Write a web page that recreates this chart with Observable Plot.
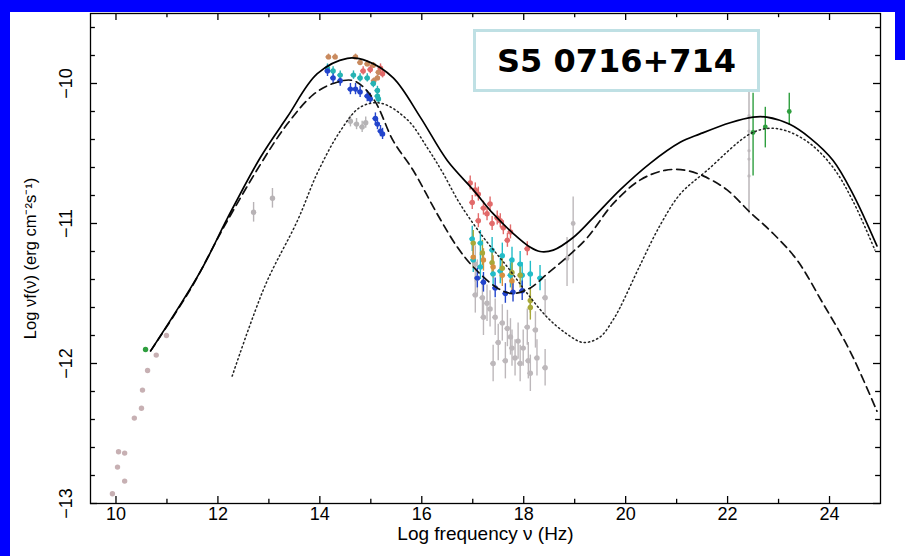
<!DOCTYPE html>
<html><head><meta charset="utf-8">
<script src="https://cdn.jsdelivr.net/npm/d3@7"></script>
<script src="https://cdn.jsdelivr.net/npm/@observablehq/plot@0.6"></script>
<style>
html,body{margin:0;padding:0;background:#fff;}
#wrap{position:relative;width:905px;height:556px;overflow:hidden;background:#fff;}
.band{position:absolute;background:#0000ff;}
#title{position:absolute;left:473px;top:29px;width:281px;height:57px;border:3px solid #bfe0e4;background:#fff;font:bold 32px "DejaVu Sans",sans-serif;display:flex;align-items:center;justify-content:center;color:#000;}
</style></head><body>
<div id="wrap"><div id="chart"></div>
<div class="band" style="left:0;top:0;width:905px;height:12px"></div>
<div class="band" style="left:0;top:0;width:10px;height:556px"></div>
<div class="band" style="left:895px;top:0;width:10px;height:60px"></div>
<div id="title">S5 0716+714</div>
</div>
<script>
// ---- tick labels ----
const xMajor = [10, 12, 14, 16, 18, 20, 22, 24];
const xMinor = [11, 13, 15, 17, 19, 21, 23];
const yMajor = [-13, -12, -11, -10];
const yMinor = [-12.8, -12.6, -12.4, -12.2, -11.8, -11.6, -11.4, -11.2, -10.8, -10.6, -10.4, -10.2, -9.8, -9.6];

// ---- model curves [log nu, log nuFnu] ----
const totalModel = [[10.68,-11.91],[11.66,-11.34],[12.19,-10.96],[12.83,-10.53],[13.36,-10.24],[13.95,-9.93],[14.54,-9.82],[14.93,-9.84],[15.44,-9.96],[15.97,-10.24],[16.5,-10.55],[17.01,-10.76],[17.4,-10.93],[17.79,-11.07],[18.13,-11.17],[18.32,-11.2],[18.58,-11.19],[18.97,-11.1],[19.36,-10.96],[19.89,-10.76],[20.48,-10.57],[21.07,-10.42],[21.46,-10.36],[22.05,-10.28],[22.5,-10.24],[22.77,-10.24],[23.21,-10.29],[23.62,-10.39],[24.07,-10.55],[24.46,-10.79],[24.93,-11.16]];
const dashedModel = [[10.68,-11.91],[11.46,-11.47],[12.11,-11.03],[12.83,-10.58],[13.36,-10.29],[13.87,-10.08],[14.26,-10.0],[14.66,-9.98],[15.05,-10.11],[15.44,-10.41],[15.83,-10.62],[16.3,-10.93],[16.7,-11.17],[17.01,-11.31],[17.48,-11.46],[17.79,-11.5],[18.13,-11.46],[18.46,-11.36],[18.85,-11.24],[19.25,-11.1],[19.75,-10.86],[20.28,-10.69],[20.77,-10.62],[21.17,-10.62],[21.52,-10.66],[21.99,-10.76],[22.44,-10.92],[22.89,-11.07],[23.36,-11.26],[23.87,-11.57],[24.4,-11.91],[24.93,-12.34]];
const dottedModel = [[12.28,-12.09],[12.93,-11.44],[13.56,-10.98],[13.95,-10.64],[14.4,-10.34],[14.79,-10.17],[15.19,-10.14],[15.72,-10.26],[16.11,-10.46],[16.4,-10.63],[16.75,-10.86],[17.21,-11.1],[17.68,-11.31],[18.07,-11.5],[18.46,-11.67],[18.85,-11.79],[19.17,-11.85],[19.5,-11.81],[19.75,-11.69],[19.89,-11.6],[20.28,-11.3],[20.68,-11.01],[21.07,-10.79],[21.6,-10.62],[22.44,-10.36],[22.83,-10.32],[23.17,-10.34],[23.62,-10.43],[24.07,-10.6],[24.46,-10.84],[24.89,-11.19]];

// ---- observations [log nu, log nuFnu] ----
const radioGrey = [[10.99,-11.8],[10.79,-11.94],[10.62,-12.05],[10.52,-12.19],[10.5,-12.32],[10.36,-12.39],[10.05,-12.63],[10.03,-12.74],[9.93,-12.93],[10.17,-12.64],[10.17,-12.84]];
const radioGreen = [[10.58,-11.9]];
const irGrey = [[12.7,-10.92],[13.07,-10.82]];
const optGrey = [[14.6,-10.27],[14.72,-10.29],[14.83,-10.31],[14.9,-10.28]];
const optBrown = [[14.17,-9.81],[14.3,-9.81],[14.7,-9.81],[14.79,-9.85],[14.93,-9.86],[15.05,-9.87],[15.15,-9.92],[15.13,-9.96],[15.06,-9.98]];
const optRed = [[14.85,-9.91],[14.99,-9.9],[15.19,-9.89],[15.23,-9.93]];
const optCyan = [[14.15,-9.89],[14.26,-9.91],[14.4,-9.94],[14.66,-9.94],[14.79,-9.96],[14.93,-9.96],[15.05,-10.0],[15.13,-10.05],[15.13,-10.09],[15.15,-10.11]];
const optBlue = [[14.15,-9.91],[14.26,-9.96],[14.4,-9.98],[14.6,-10.04],[14.7,-10.04],[14.79,-10.06],[14.93,-10.09],[14.99,-10.11],[15.09,-10.25],[15.13,-10.29],[15.19,-10.34],[15.23,-10.36]];
const xrRed = [[16.95,-10.71],[17.05,-10.76],[17.11,-10.79],[16.99,-10.85],[17.21,-10.89],[17.34,-10.86],[17.28,-10.93],[17.48,-10.96],[17.54,-10.98],[17.38,-11.0],[17.6,-11.03],[17.74,-11.06],[17.68,-11.12],[18.07,-11.18],[17.11,-10.98]];
const xrCyan = [[16.99,-11.11],[17.15,-11.14],[17.38,-11.19],[17.58,-11.23],[17.77,-11.26],[17.93,-11.29],[18.13,-11.36],[18.32,-11.39],[17.01,-11.26],[17.15,-11.31],[17.4,-11.36],[17.54,-11.34],[17.74,-11.37],[17.97,-11.37]];
const xrOlive = [[17.01,-11.14],[17.19,-11.21],[17.38,-11.28],[17.58,-11.32],[17.77,-11.35],[17.93,-11.37],[18.13,-11.55],[18.13,-11.6]];
const xrOrange = [[17.01,-11.24],[17.21,-11.26],[17.4,-11.31],[17.58,-11.37],[17.77,-11.41]];
const xrBlue = [[17.09,-11.39],[17.21,-11.42],[17.44,-11.46],[17.64,-11.5],[17.79,-11.49],[17.97,-11.48]];
const xrGrey = [[17.05,-11.29],[17.09,-11.39],[17.05,-11.51],[17.19,-11.53],[17.28,-11.57],[17.34,-11.61],[17.44,-11.67],[17.21,-11.67],[17.58,-11.71],[17.68,-11.75],[17.5,-11.85],[17.74,-11.81],[17.77,-11.89],[17.89,-11.84],[17.99,-11.89],[18.07,-11.74],[18.23,-11.76],[17.4,-12.0],[17.64,-11.98],[17.83,-11.96],[17.93,-12.0],[18.09,-11.98],[18.26,-11.96],[18.13,-12.07],[18.42,-11.53],[18.42,-12.03]];
// [log nu, value, low, high]
const hxGrey = [[18.97,-11.0,-11.43,-10.81],[18.85,-11.25,-11.45,-11.1]];
const gammaGreen = [[22.5,-10.35,-10.66,-10.07],[22.74,-10.31,-10.46,-10.17],[23.21,-10.2,-10.3,-10.07]];
const gammaGreyBar = [[22.42,-10.45,-10.93,-9.98]];
const gammaGreyPts = [[22.42,-10.23],[22.42,-10.34],[22.42,-10.48],[22.42,-10.54],[22.42,-10.66]];

// groups: data, colour, y-error, x-error
const groups = [
  [radioGrey, "#c7b0b3", 0.01, 0],
  [radioGreen, "#2e9e3e", 0.01, 0],
  [irGrey, "#b8b3b6", 0.07, 0.03],
  [optGrey, "#b5b3b5", 0.04, 0.05],
  [xrGrey, "#bdb8bb", 0.13, 0.05],
  [optBrown, "#c98a5e", 0.02, 0.05],
  [optRed, "#e26a6a", 0.03, 0.05],
  [optCyan, "#26b3b3", 0.03, 0.05],
  [optBlue, "#2244cc", 0.04, 0.05],
  [xrRed, "#e26a6a", 0.05, 0.05],
  [xrCyan, "#22bcc8", 0.09, 0.05],
  [xrOlive, "#a8a838", 0.09, 0.04],
  [xrOrange, "#d69040", 0.08, 0.04],
  [xrBlue, "#2244cc", 0.07, 0.05],
];
const pts = groups.flatMap(([arr, color, ey, ex]) => arr.map(([x, y]) => ({x, y, color, ey, ex})));
const ranged = [
  ...hxGrey.map(([x,y,lo,hi]) => ({x,y,lo,hi,color:"#bdb8bb"})),
  ...gammaGreyBar.map(([x,y,lo,hi]) => ({x,y,lo,hi,color:"#b5b0b3"})),
  ...gammaGreen.map(([x,y,lo,hi]) => ({x,y,lo,hi,color:"#2e9e3e"})),
];
const line = arr => arr.map(([x, y]) => ({x, y}));

const tickLenY = 7/140, tickLenX = 7/51;
const chart = Plot.plot({
  width: 905, height: 556,
  marginLeft: 90, marginRight: 25, marginTop: 13, marginBottom: 53,
  x: {domain: [9.5, 25], axis: null},
  y: {domain: [-13, -9.5], axis: null},
  color: {type: "identity"},
  style: {fontFamily: "'Liberation Sans', Arial, sans-serif", background: "white", overflow: "visible"},
  marks: [
    // error bars
    Plot.ruleX(pts, {x: "x", y1: d => d.y - d.ey, y2: d => d.y + d.ey, stroke: "color", strokeWidth: 1.4}),
    Plot.ruleY(pts.filter(d => d.ex > 0), {y: "y", x1: d => d.x - d.ex, x2: d => d.x + d.ex, stroke: "color", strokeWidth: 1.4}),
    Plot.ruleX(ranged, {x: "x", y1: "lo", y2: "hi", stroke: "color", strokeWidth: 1.4}),
    Plot.dot(pts, {x: "x", y: "y", fill: "color", r: 2.7}),
    Plot.dot(ranged.filter(d => d.color === "#2e9e3e" || d.x < 20), {x: "x", y: "y", fill: "color", r: 2.4}),
    Plot.dot(gammaGreyPts.map(([x,y])=>({x,y})), {x: "x", y: "y", fill: "#bdb8bb", r: 1.6}),
    // models
    Plot.line(line(dottedModel), {x: "x", y: "y", stroke: "#222", strokeWidth: 1.5, strokeDasharray: "1.3,3", curve: "catmull-rom"}),
    Plot.line(line(dashedModel), {x: "x", y: "y", stroke: "#111", strokeWidth: 1.7, strokeDasharray: "8,5", curve: "catmull-rom"}),
    Plot.line(line(totalModel), {x: "x", y: "y", stroke: "#000", strokeWidth: 1.7, curve: "catmull-rom"}),
    // frame & inward ticks
    Plot.frame({stroke: "#000", strokeWidth: 1.3}),
    Plot.ruleX(xMajor, {x: d => d, y1: -13, y2: -13 + tickLenY, stroke: "#000", strokeWidth: 1.3}),
    Plot.ruleX(xMinor, {x: d => d, y1: -13, y2: -13 + tickLenY*0.6, stroke: "#000", strokeWidth: 1.3}),
    Plot.ruleX(xMajor, {x: d => d, y1: -9.5, y2: -9.5 - tickLenY, stroke: "#000", strokeWidth: 1.3}),
    Plot.ruleX(xMinor, {x: d => d, y1: -9.5, y2: -9.5 - tickLenY*0.6, stroke: "#000", strokeWidth: 1.3}),
    Plot.ruleY(yMajor, {y: d => d, x1: 9.5, x2: 9.5 + tickLenX, stroke: "#000", strokeWidth: 1.3}),
    Plot.ruleY(yMinor, {y: d => d, x1: 9.5, x2: 9.5 + tickLenX*0.7, stroke: "#000", strokeWidth: 1.3}),
    Plot.ruleY(yMajor, {y: d => d, x1: 25, x2: 25 - tickLenX, stroke: "#000", strokeWidth: 1.3}),
    Plot.ruleY(yMinor, {y: d => d, x1: 25, x2: 25 - tickLenX*0.7, stroke: "#000", strokeWidth: 1.3}),
    // tick labels
    Plot.text(xMajor, {x: d => d, frameAnchor: "bottom", dy: 16, text: d => String(d), fontSize: 18, fill: "#000"}),
    Plot.text(yMajor, {y: d => d, frameAnchor: "left", dx: -24, rotate: -90, textAnchor: "middle", lineAnchor: "middle", text: d => "\u2212" + Math.abs(d), fontSize: 18, fill: "#000"}),
    // axis titles
    Plot.text(["Log frequency \u03bd (Hz)"], {frameAnchor: "bottom", dy: 36, text: d => d, fontSize: 19, fill: "#000"}),
    Plot.text(["Log \u03bdf(\u03bd) (erg cm\u207b\u00b2s\u207b\u00b9)"], {frameAnchor: "left", dx: -60, rotate: -90, textAnchor: "middle", lineAnchor: "middle", text: d => d, fontSize: 16.5, fill: "#000"}),
  ]
});
document.getElementById("chart").appendChild(chart);
</script>
</body></html>
